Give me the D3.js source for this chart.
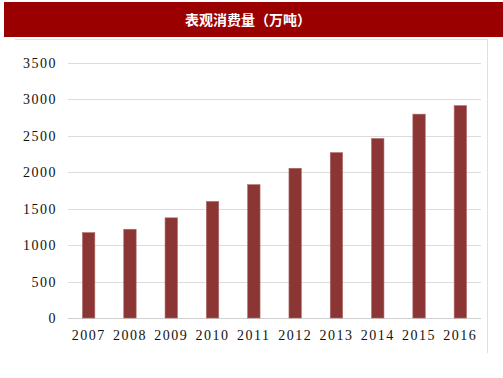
<!DOCTYPE html>
<html>
<head>
<meta charset="utf-8">
<script src="https://cdn.jsdelivr.net/npm/d3@7"></script>
<style>
  body { margin: 0; background: #fff; }
  svg { display: block; }
</style>
</head>
<body>
<svg></svg>
<script>
const title = "表观消费量（万吨）";
const years = ["2007", "2008", "2009", "2010", "2011", "2012", "2013", "2014", "2015", "2016"];
const values = [1172, 1218, 1375, 1600, 1830, 2055, 2270, 2463, 2798, 2915];
const yTicks = [0, 500, 1000, 1500, 2000, 2500, 3000, 3500];

const [width, height] = [503, 378];
const margin = {top: 63, right: 21, bottom: 60, left: 68};

const svg = d3.select("svg")
  .attr("width", width)
  .attr("height", height);

// title band
svg.append("rect")
  .attr("x", 4).attr("y", 2)
  .attr("width", 499).attr("height", 35)
  .attr("fill", "#9b0000");

svg.append("text")
  .attr("x", 248).attr("y", 21)
  .attr("text-anchor", "middle")
  .attr("dominant-baseline", "middle")
  .attr("fill", "#fff")
  .attr("font-family", "'Noto Sans CJK SC', sans-serif")
  .attr("font-weight", "bold")
  .attr("font-size", 14)
  .text(title);

// light frame (top + right)
svg.append("path")
  .attr("d", "M15,39.5H487.5V353")
  .attr("fill", "none")
  .attr("stroke", "#e0e0e0");

const x = d3.scaleBand()
  .domain(years)
  .range([margin.left, width - margin.right - 1])
  .paddingInner(0.7)
  .paddingOuter(0.35);

const y = d3.scaleLinear()
  .domain([0, 3500])
  .range([318, margin.top]);

// gridlines
svg.append("g")
  .selectAll("line")
  .data(yTicks)
  .join("line")
  .attr("x1", margin.left)
  .attr("x2", width - margin.right - 1)
  .attr("y1", d => Math.round(y(d)) + 0.5)
  .attr("y2", d => Math.round(y(d)) + 0.5)
  .attr("stroke", d => d === 0 ? "#d0d0d0" : "#dcdcdc");

// y axis labels
const yAxis = d3.axisLeft(y).tickValues(yTicks).tickFormat(d3.format("d")).tickSize(0).tickPadding(0);
svg.append("g")
  .attr("transform", `translate(57,0)`)
  .call(yAxis)
  .call(g => g.select(".domain").remove())
  .selectAll("text")
  .attr("font-family", "'Liberation Serif', serif")
  .attr("font-size", 14)
  .attr("letter-spacing", 1.5)
  .attr("fill", "#111");

// bars
svg.append("g")
  .selectAll("rect")
  .data(values)
  .join("rect")
  .attr("x", (d, i) => x(years[i]))
  .attr("y", d => y(d))
  .attr("width", x.bandwidth())
  .attr("height", d => y(0) - y(d))
  .attr("fill", "#8b3535")
  .attr("stroke", "#b06a6a")
  .attr("stroke-width", 0.6);

// x axis labels
const xAxis = d3.axisBottom(x).tickSize(0).tickPadding(0);
svg.append("g")
  .attr("transform", `translate(0,330)`)
  .call(xAxis)
  .call(g => g.select(".domain").remove())
  .selectAll("text")
  .attr("font-family", "'Liberation Serif', serif")
  .attr("font-size", 14)
  .attr("letter-spacing", 1.5)
  .attr("fill", "#111");
</script>
</body>
</html>
